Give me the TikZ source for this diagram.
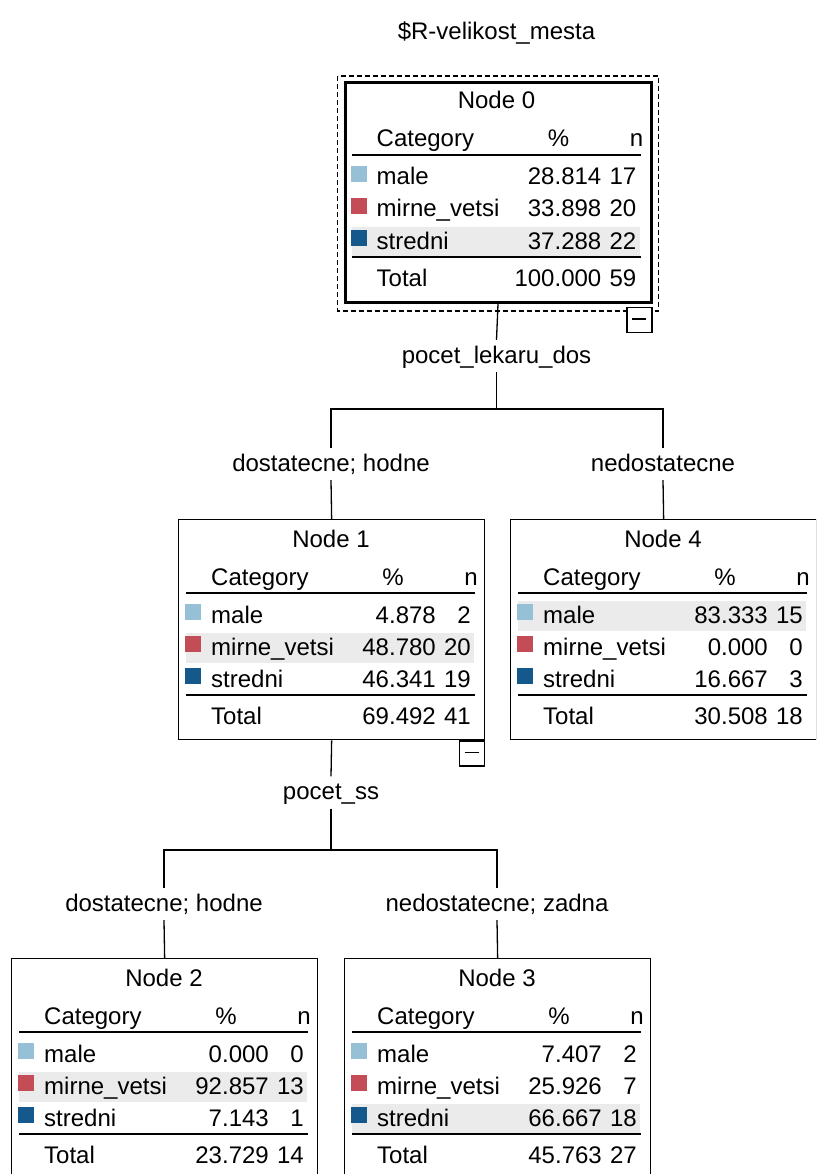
\documentclass[tikz,border=0pt]{standalone}
\usepackage{fontspec}
\setmainfont{Liberation Sans}
\usetikzlibrary{calc}
\definecolor{cmale}{RGB}{150,192,214}
\definecolor{cmirne}{RGB}{196,76,86}
\definecolor{cstr}{RGB}{21,88,140}
\definecolor{hlgray}{RGB}{235,235,235}
\tikzset{
  txt/.style={font=\fontsize{24}{28}\selectfont, inner sep=0pt},
  treeframe/.style={draw, line width=1.3pt, minimum width=306pt, minimum height=220pt, inner sep=0pt, anchor=north west},
  rootframe/.style={line width=3pt},
  rulel/.style={line width=1.3pt},
  conn/.style={line width=1.3pt},
  lbl/.style={txt, text height=18pt, text depth=4pt, inner ysep=5pt, inner xsep=2pt},
  minusbox/.style={draw, fill=white, line width=1.3pt, minimum width=25pt, minimum height=25pt, inner sep=0pt,
    path picture={\draw[line width=1.5pt] ([xshift=-7pt,yshift=1pt]path picture bounding box.center) -- ([xshift=7pt,yshift=1pt]path picture bounding box.center);}},
  selframe/.style={draw, line width=1.5pt, dash pattern=on 5pt off 3pt}
}
% #1 extra frame style, #2 name, #3 left, #4 top, #5 title, #6 highlighted row, #7 rows, #8 total %, #9 total n
\newcommand{\treebox}[9][]{%
  \fill[hlgray] ({#3+8},{#4+82+32*(#6-1)}) rectangle ({#3+296},{#4+112+32*(#6-1)});
  \node[treeframe,#1] (#2) at (#3,#4) {};
  \node[txt, anchor=base] (#2-title) at ({#3+153},{#4+28}) {#5};
  \node[txt, anchor=base west] (#2-hcat) at ({#3+33},{#4+66}) {Category};
  \node[txt, anchor=base] (#2-hpct) at ({#3+215},{#4+66}) {\%};
  \node[txt, anchor=base east] (#2-hn) at ({#3+300},{#4+66}) {n};
  \draw[rulel] ({#3+8},{#4+74}) -- ({#3+297},{#4+74});
  \foreach \nm/\cc/\vp/\vn [count=\i] in {#7} {
    \fill[\cc] ({#3+7},{#4+85+32*(\i-1)}) rectangle ({#3+23},{#4+101+32*(\i-1)});
    \node[txt, anchor=base west] (#2-c\i) at ({#3+33},{#4+104+32*(\i-1)}) {\nm};
    \node[txt, anchor=base east] (#2-p\i) at ({#3+258},{#4+104+32*(\i-1)}) {\vp};
    \node[txt, anchor=base east] (#2-n\i) at ({#3+293},{#4+104+32*(\i-1)}) {\vn};
  }
  \draw[rulel] ({#3+8},{#4+176}) -- ({#3+297},{#4+176});
  \node[txt, anchor=base west] (#2-tot) at ({#3+33},{#4+205}) {Total};
  \node[txt, anchor=base east] (#2-tp) at ({#3+258},{#4+205}) {#8};
  \node[txt, anchor=base east] (#2-tn) at ({#3+293},{#4+205}) {#9};
}
\begin{document}
\begin{tikzpicture}[x=1pt,y=-1pt]
\useasboundingbox (0,0) rectangle (816,1174);
\clip (0,0) rectangle (816,1174);
\fill[white] (0,0) rectangle (816,1174);

\node[txt, anchor=base] (title) at (496.5,40) {\$R-velikost\_mesta};

% root node
\treebox[rootframe]{n0}{343.5}{81}{Node 0}{3}{male/cmale/28.814/17, mirne\_vetsi/cmirne/33.898/20, stredni/cstr/37.288/22}{100.000}{59}
\draw[selframe] ($(n0.north west)+(-6,-5)$) rectangle ($(n0.south east)+(6,7)$);
\node[minusbox, anchor=north east] (n0-m) at ($(n0.south east)+(0,3)$) {};

\treebox{n1}{178}{519}{Node 1}{2}{male/cmale/4.878/2, mirne\_vetsi/cmirne/48.780/20, stredni/cstr/46.341/19}{69.492}{41}
\node[minusbox, anchor=north east] (n1-m) at (n1.south east) {};

\treebox{n4}{510}{519}{Node 4}{1}{male/cmale/83.333/15, mirne\_vetsi/cmirne/0.000/0, stredni/cstr/16.667/3}{30.508}{18}

\treebox{n2}{11}{958}{Node 2}{2}{male/cmale/0.000/0, mirne\_vetsi/cmirne/92.857/13, stredni/cstr/7.143/1}{23.729}{14}
\treebox{n3}{344}{958}{Node 3}{3}{male/cmale/7.407/2, mirne\_vetsi/cmirne/25.926/7, stredni/cstr/66.667/18}{45.763}{27}

% split 0
\node[lbl] (s0) at (496.5,356) {pocet\_lekaru\_dos};
\coordinate (j0) at (496.5,409);
\node[lbl] (e1) at (331,464) {dostatecne; hodne};
\node[lbl] (e4) at (663,464) {nedostatecne};
\draw[conn] (n0.south) -- (s0.north);
\draw[conn] (s0.south) -- (j0);
\draw[conn] (e1.north) -- (e1.north |- j0) -- (e4.north |- j0) -- (e4.north);
\draw[conn] (e1.south) -- (n1.north);
\draw[conn] (e4.south) -- (n4.north);

% split 1
\node[lbl] (s1) at (331,792.5) {pocet\_ss};
\coordinate (j1) at (331,850);
\node[lbl] (e2) at (164,904) {dostatecne; hodne};
\node[lbl] (e3) at (497,904) {nedostatecne; zadna};
\draw[conn] (n1.south) -- (s1.north);
\draw[conn] (s1.south) -- (j1);
\draw[conn] (e2.north) -- (e2.north |- j1) -- (e3.north |- j1) -- (e3.north);
\draw[conn] (e2.south) -- (n2.north);
\draw[conn] (e3.south) -- (n3.north);
\end{tikzpicture}
\end{document}
